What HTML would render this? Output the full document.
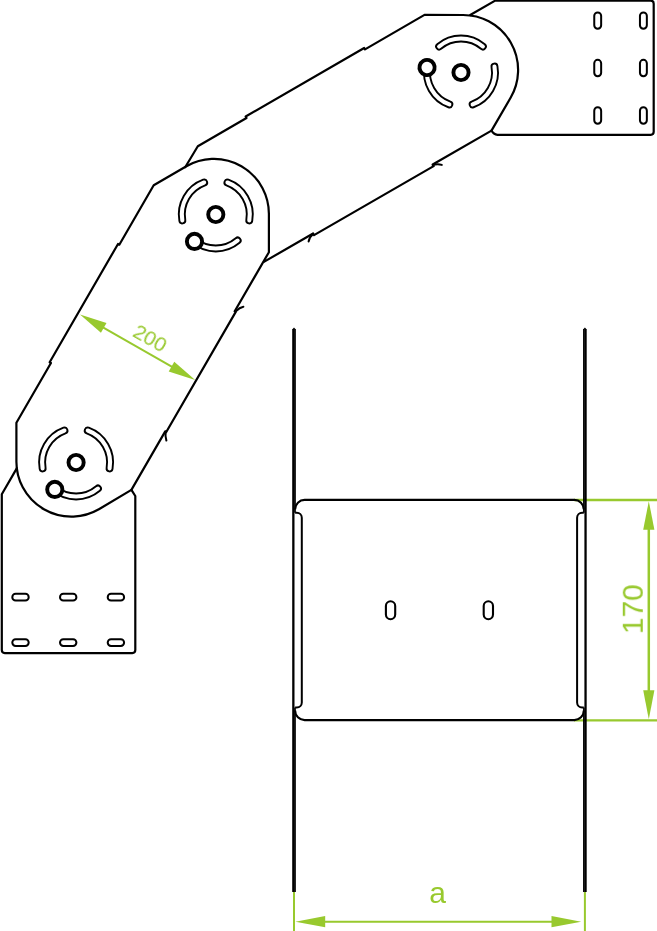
<!DOCTYPE html>
<html lang="en"><head><meta charset="utf-8"><title>Drawing</title>
<style>html,body{margin:0;padding:0;background:#fff}body{width:657px;height:931px;overflow:hidden}svg{display:block}</style>
</head><body>
<svg width="657" height="931" viewBox="0 0 657 931">
<rect width="657" height="931" fill="#fff"/>
<g fill="none" stroke="#000" stroke-width="2.2" stroke-linejoin="round" stroke-linecap="round">
<path d="M153.7 185.2L119.32 244.70L118.02 243.95L49.66 362.25L50.96 363.00L16.4 422.8L16.4 461.7A55 55 0 0 0 98.9 509.3L131.4 489.9L165.24 431.40L166.28 432.00L235.75 311.90L234.71 311.30L268.9 252.2L268.9 213.8A55 55 0 0 0 186.4 166.2Z"/>
<path d="M185.2 167.2L197.8 146.2L246.5 118.0L245.65 116.53L364.15 47.93L365 49.4L424.5 14.9L463.1 15A55 55 0 0 1 510.73 97.5L491.5 130.6L432.70 164.5L433.65 166.15L314.05 235.15L313.10 233.5L263.9 261.9"/>
<path d="M470.2 15L495.2 0.65L650.7 0.65A3 3 0 0 1 653.7 3.65L653.7 131.8A3 3 0 0 1 650.7 134.8L497.5 134.8Q493.5 134.6 491.5 130.6"/>
<path d="M16.9 468.1L1.8 494.2L1.8 650.1A3 3 0 0 0 4.8 653.1L132.3 653.1A3 3 0 0 0 135.3 650.1L135.3 496L131.4 489.9"/>
<path d="M313.1 233.9Q309.8 236.5 308.6 241.6" stroke-width="2"/>
<path d="M432.7 165.1Q437.5 163.3 441.8 164.9" stroke-width="2"/>
<path d="M235.8 311.3Q239.5 307.5 243.4 306.8" stroke-width="2"/>
<path d="M165.7 431.4Q165 436 166.4 440.6" stroke-width="2"/>
</g>
<g fill="none" stroke="#000" stroke-width="2.0">
<rect x="12.30" y="593.85" width="16.4" height="6.7" rx="3.35"/>
<rect x="12.30" y="639.25" width="16.4" height="6.7" rx="3.35"/>
<rect x="60.00" y="593.85" width="16.4" height="6.7" rx="3.35"/>
<rect x="60.00" y="639.25" width="16.4" height="6.7" rx="3.35"/>
<rect x="107.70" y="593.85" width="16.4" height="6.7" rx="3.35"/>
<rect x="107.70" y="639.25" width="16.4" height="6.7" rx="3.35"/>
<rect x="594.25" y="12.40" width="6.9" height="16.4" rx="3.45"/>
<rect x="594.25" y="59.85" width="6.9" height="16.4" rx="3.45"/>
<rect x="594.25" y="107.30" width="6.9" height="16.4" rx="3.45"/>
<rect x="639.95" y="12.40" width="6.9" height="16.4" rx="3.45"/>
<rect x="639.95" y="59.85" width="6.9" height="16.4" rx="3.45"/>
<rect x="639.95" y="107.30" width="6.9" height="16.4" rx="3.45"/>
</g>
<g transform="translate(76.1 462.5) rotate(0)"><path d="M21.85 26.05A34.0 34.0 0 0 1 -21.85 26.05M-33.48 5.90A34.0 34.0 0 0 1 -11.63 -31.95M11.63 -31.95A34.0 34.0 0 0 1 33.48 5.90" fill="none" stroke="#000" stroke-width="7.9" stroke-linecap="round"/><path d="M21.85 26.05A34.0 34.0 0 0 1 -21.85 26.05M-33.48 5.90A34.0 34.0 0 0 1 -11.63 -31.95M11.63 -31.95A34.0 34.0 0 0 1 33.48 5.90" fill="none" stroke="#fff" stroke-width="4.1" stroke-linecap="round"/><circle cx="-21.31" cy="26.88" r="7.6" fill="#fff" stroke="#000" stroke-width="3.9"/></g><circle cx="76.1" cy="462.5" r="7.6" fill="#fff" stroke="#000" stroke-width="3.9"/>
<g transform="translate(215.8 214.5) rotate(0)"><path d="M21.85 26.05A34.0 34.0 0 0 1 -21.85 26.05M-33.48 5.90A34.0 34.0 0 0 1 -11.63 -31.95M11.63 -31.95A34.0 34.0 0 0 1 33.48 5.90" fill="none" stroke="#000" stroke-width="7.9" stroke-linecap="round"/><path d="M21.85 26.05A34.0 34.0 0 0 1 -21.85 26.05M-33.48 5.90A34.0 34.0 0 0 1 -11.63 -31.95M11.63 -31.95A34.0 34.0 0 0 1 33.48 5.90" fill="none" stroke="#fff" stroke-width="4.1" stroke-linecap="round"/><circle cx="-21.31" cy="26.88" r="7.6" fill="#fff" stroke="#000" stroke-width="3.9"/></g><circle cx="215.8" cy="214.5" r="7.6" fill="#fff" stroke="#000" stroke-width="3.9"/>
<g transform="translate(461.0 72.5) rotate(60)"><path d="M21.85 26.05A34.0 34.0 0 0 1 -21.85 26.05M-33.48 5.90A34.0 34.0 0 0 1 -11.63 -31.95M11.63 -31.95A34.0 34.0 0 0 1 33.48 5.90" fill="none" stroke="#000" stroke-width="7.9" stroke-linecap="round"/><path d="M21.85 26.05A34.0 34.0 0 0 1 -21.85 26.05M-33.48 5.90A34.0 34.0 0 0 1 -11.63 -31.95M11.63 -31.95A34.0 34.0 0 0 1 33.48 5.90" fill="none" stroke="#fff" stroke-width="4.1" stroke-linecap="round"/><circle cx="-21.31" cy="26.88" r="7.6" fill="#fff" stroke="#000" stroke-width="3.9"/></g><circle cx="461.0" cy="72.5" r="7.6" fill="#fff" stroke="#000" stroke-width="3.9"/>
<path d="M574 500.05H657M574 720.4H657" fill="none" stroke="#98c92e" stroke-width="2.4"/>
<g fill="none" stroke="#000" stroke-linecap="butt">
<path d="M293.35 329L293.35 892" stroke-width="2.3"/>
<path d="M295.0 329L295.0 512.8M295.0 707.4L295.0 892" stroke-width="1.7"/>
<path d="M292.4 329.3L294.0 327.4L295.6 329.3Z" fill="#000" stroke="none"/>
<path d="M295.1 512.8L296.8 512.8A5.0 5.0 0 0 1 301.8 517.8L301.8 702.4A5.0 5.0 0 0 1 296.8 707.4L295.1 707.4" stroke-width="2.0"/>
<path d="M585.55 329L585.55 892" stroke-width="2.3"/>
<path d="M583.9 329L583.9 512.8M583.9 707.4L583.9 892" stroke-width="1.7"/>
<path d="M583.3 329.3L584.9 327.4L586.5 329.3Z" fill="#000" stroke="none"/>
<path d="M583.8 512.8L582.1 512.8A5.0 5.0 0 0 0 577.1 517.8L577.1 702.4A5.0 5.0 0 0 0 582.1 707.4L583.8 707.4" stroke-width="2.0"/>
<path d="M295.1 509.4A9.5 9.5 0 0 1 304.6 499.9L574.3 499.9A9.5 9.5 0 0 1 583.8 509.4M583.8 710.6A9.5 9.5 0 0 1 574.3 720.1L304.6 720.1A9.5 9.5 0 0 1 295.1 710.6" stroke-width="2.1"/>
<rect x="385.90" y="601.3" width="9.3" height="17.9" rx="4.65" stroke-width="2.1"/>
<rect x="483.70" y="601.3" width="9.3" height="17.9" rx="4.65" stroke-width="2.1"/>
</g>
<g fill="none" stroke="#98c92e" stroke-width="2.0">
<path d="M648.8 515V706" stroke-width="2.5"/>
<path d="M294 892V931M584.9 892V931M310 921.7H566"/>
<path d="M92 321.2L183.5 373.4"/>
</g>
<g fill="#98c92e" stroke="none">
<path d="M648.8 501.2L654.4 529.7L643.2 529.7Z"/>
<path d="M648.8 719.2L654.4 690.2L643.2 690.2Z"/>
<path d="M295.4 921.7L325.2 916.1L325.2 927.3Z"/>
<path d="M581.2 921.7L551.5 916.1L551.5 927.3Z"/>
<path d="M80.00 314.40L100.94 332.79L106.49 323.06Z"/>
<path d="M195.20 380.10L174.26 361.71L168.71 371.44Z"/>
</g>
<g fill="#98c92e" font-family="'Liberation Sans', Arial, Helvetica, sans-serif" text-anchor="middle" opacity="0.999">
<text transform="translate(137.6 347.25) rotate(29.7)" x="6.4" y="-7.3" font-size="21">200</text>
<text transform="translate(642.8 609.2) rotate(-90)" x="0" y="0" font-size="30">170</text>
<text x="437.6" y="903.3" font-size="30">a</text>
</g>
</svg>
</body></html>
